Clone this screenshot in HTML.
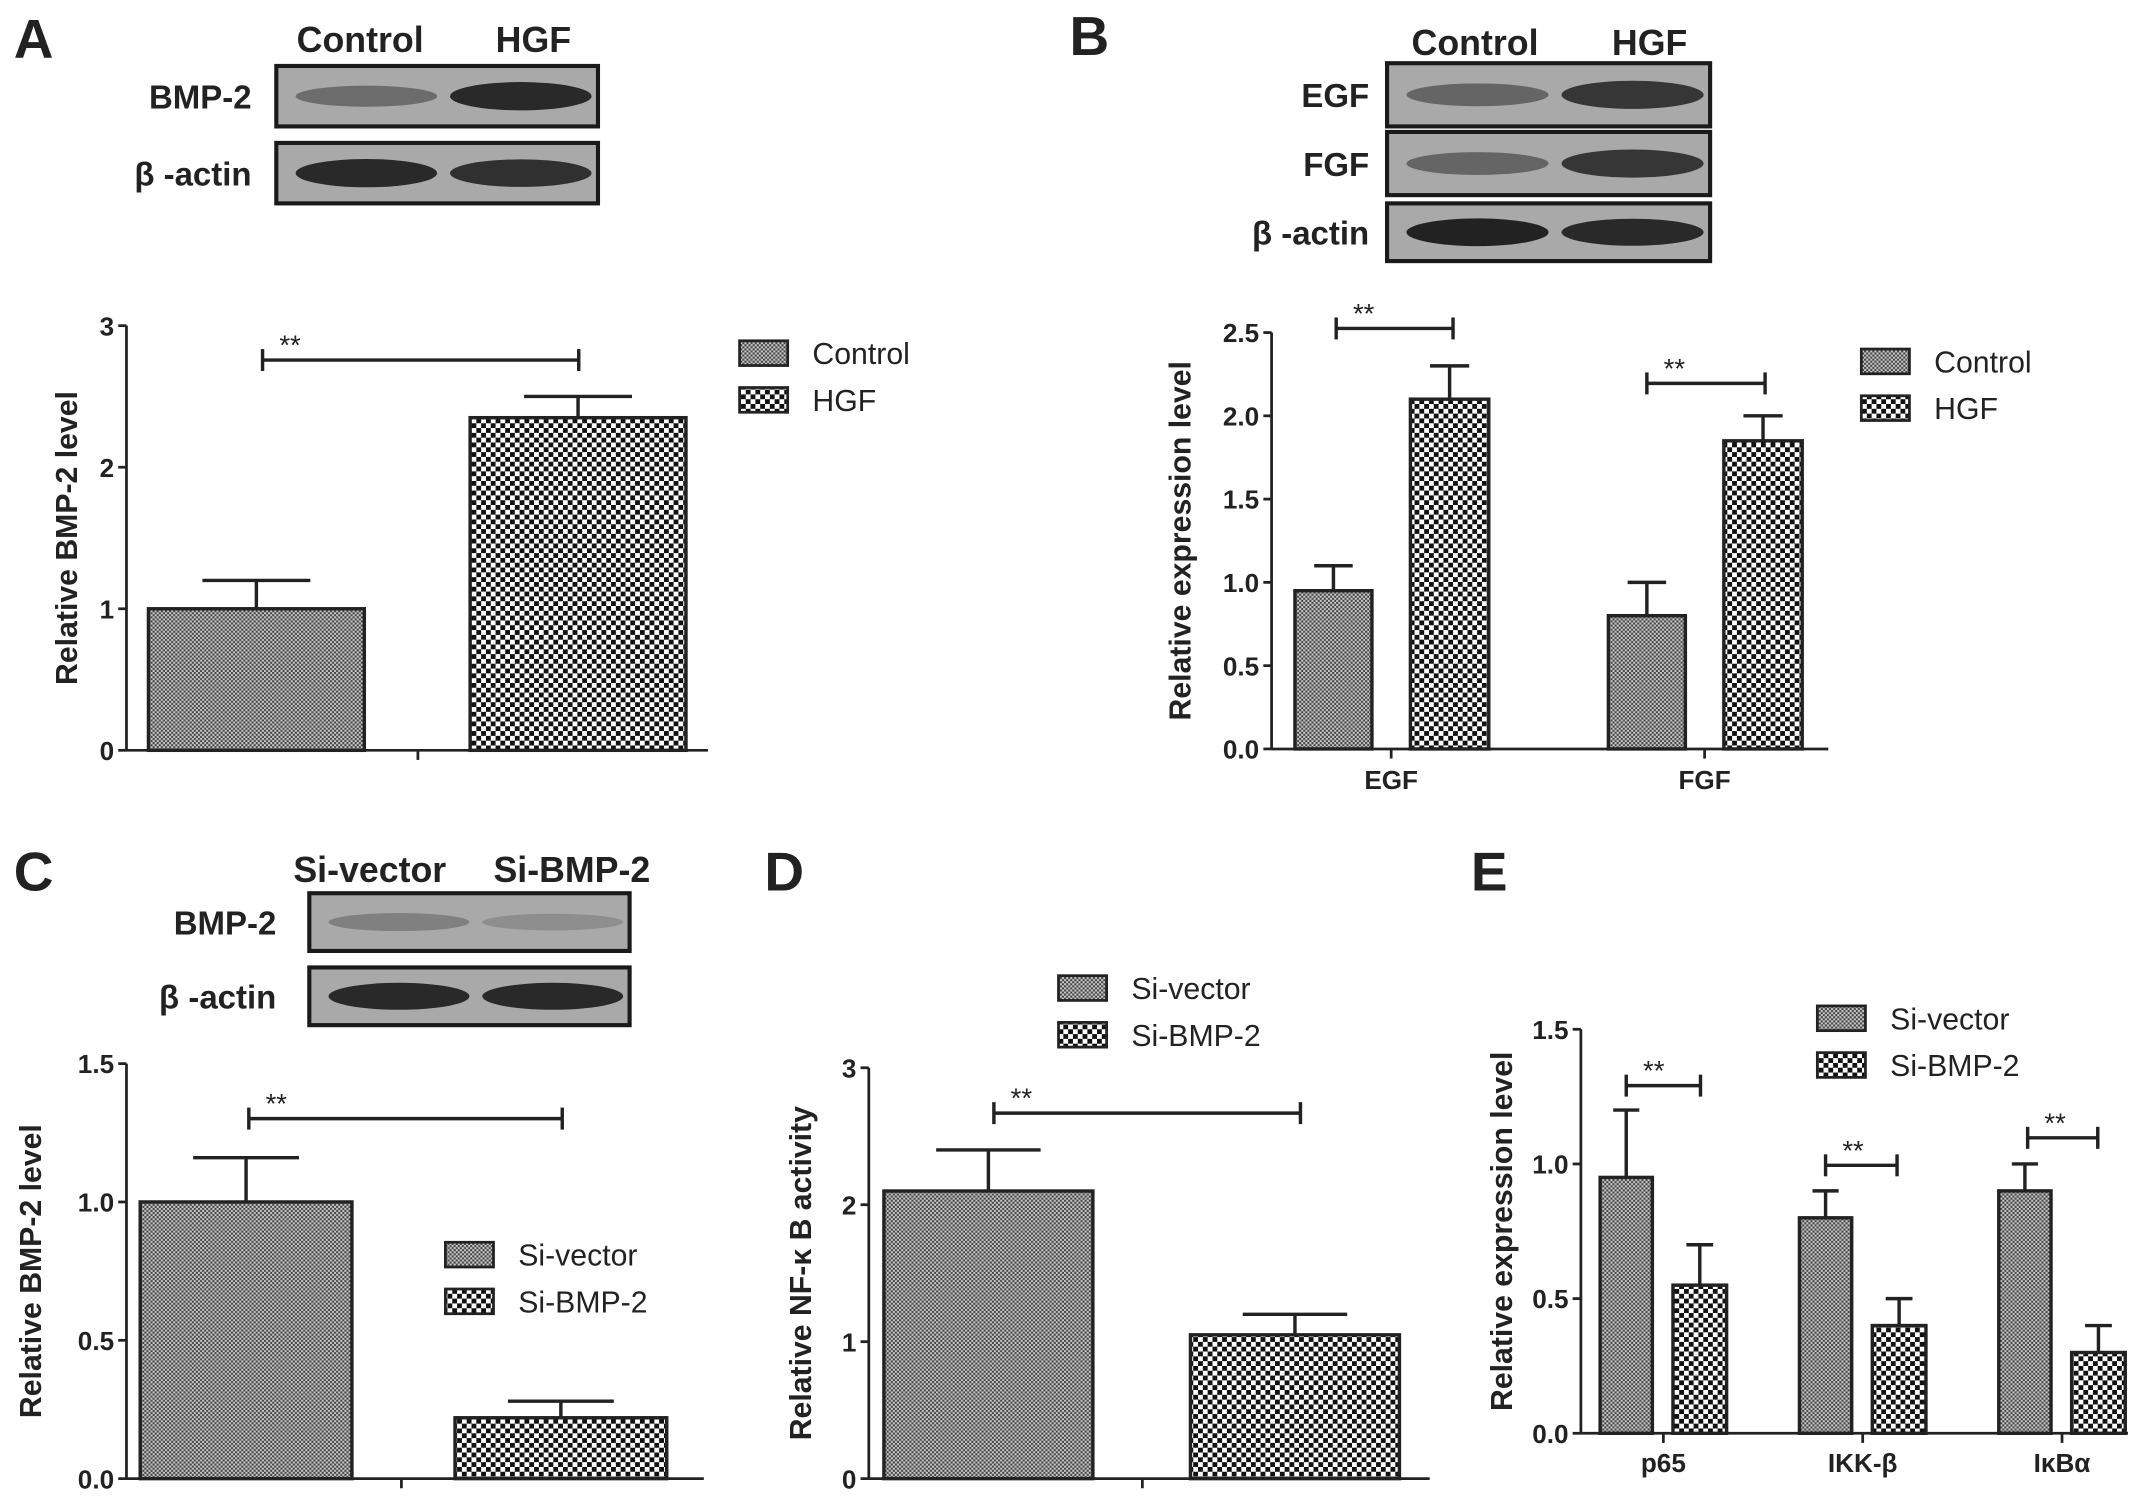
<!DOCTYPE html>
<html><head><meta charset="utf-8"><style>
html,body{margin:0;padding:0;background:#fff}
svg{display:block}
text{font-family:"Liberation Sans",Arial,sans-serif;fill:#222}
</style></head><body>
<svg id="fig" width="2150" height="1502" viewBox="0 0 1564 1093" preserveAspectRatio="none" xmlns="http://www.w3.org/2000/svg">
<defs>
<pattern id="pFine" width="3" height="3" patternUnits="userSpaceOnUse">
<rect width="3" height="3" fill="#c8c8c8"/><rect width="1.5" height="1.5" fill="#444"/><rect x="1.5" y="1.5" width="1.5" height="1.5" fill="#444"/>
</pattern>
<pattern id="pCoarse" width="7" height="7" patternUnits="userSpaceOnUse">
<rect width="7" height="7" fill="#fff"/><rect width="3.5" height="3.5" fill="#111"/><rect x="3.5" y="3.5" width="3.5" height="3.5" fill="#111"/>
</pattern>
</defs>
<g id="root"></g>
</svg>
<script>
// Panel A
const aCats = ["Control","HGF"];
const aVals = [1.0, 2.35];
const aErrs = [0.2, 0.15];
const aTicks = ["0","1","2","3"];
// Panel B
const bGroups = ["EGF","FGF"];
const bCtrl = [0.95, 0.8];
const bCtrlErr = [0.15, 0.2];
const bHgf = [2.1, 1.85];
const bHgfErr = [0.2, 0.15];
const bTicks = ["0.0","0.5","1.0","1.5","2.0","2.5"];
// Panel C
const cVals = [1.0, 0.22];
const cErrs = [0.16, 0.06];
const cTicks = ["0.0","0.5","1.0","1.5"];
// Panel D
const dVals = [2.1, 1.05];
const dErrs = [0.3, 0.15];
const dTicks = ["0","1","2","3"];
// Panel E
const eGroups = ["p65","IKK-β","IκBα"];
const eVec = [0.95, 0.8, 0.9];
const eVecErr = [0.25, 0.1, 0.1];
const eSi = [0.55, 0.4, 0.3];
const eSiErr = [0.15, 0.1, 0.1];
const eTicks = ["0.0","0.5","1.0","1.5"];

const NS="http://www.w3.org/2000/svg";
const root=document.getElementById('root');
function mk(tag,attrs,parent){const e=document.createElementNS(NS,tag);for(const k in attrs)e.setAttribute(k,attrs[k]);(parent||root).appendChild(e);return e;}
function txt(s,x,y,size,anchor,weight,parent){const t=mk('text',{x:x,y:y,'font-size':size,'text-anchor':anchor||'middle','font-weight':weight||'normal'},parent);t.textContent=s;return t;}

function letter(s,x,y){const t=txt(s,x,y,40,'start','bold');}

function blot(x,y,w,h,intens,label,lx){
  const g=mk('g',{});
  
  
  mk('rect',{x:x,y:y,width:w,height:h,fill:'#a9a9a9',stroke:'#1a1a1a','stroke-width':3},g);
  intens.forEach((v,i)=>{const cx=x+w*(i?0.76:0.28);mk('ellipse',{cx:cx,cy:y+h/2,rx:w*0.22,ry:h*0.24*(0.5+v*0.5),fill:'#222',opacity:v},g);});
  txt(label,lx,y+h/2+9,24,'end','bold',g);
}

function axis(o){
  const g=mk('g',{});
  
  
  const ys=v=>o.y0-(v/o.max)*(o.y0-o.ytop);
  mk('line',{x1:o.x0,y1:o.ytop,x2:o.x0,y2:o.y0,stroke:'#222','stroke-width':2},g);
  mk('line',{x1:o.x0,y1:o.y0,x2:o.x1,y2:o.y0,stroke:'#222','stroke-width':2},g);
  o.ticks.forEach((t,i)=>{const v=o.max*i/(o.ticks.length-1);const y=ys(v);
    mk('line',{x1:o.x0-6,y1:y,x2:o.x0,y2:y,stroke:'#222','stroke-width':2},g);
    txt(t,o.x0-9,y+7,19,'end','bold',g);});
  const yl=txt(o.ylabel,0,0,22,'middle','bold',g);
  yl.setAttribute('transform','translate('+o.ylx+','+((o.ytop+o.y0)/2)+') rotate(-90)');
  
  return ys;
}
function bar(x,w,v,err,ys,y0,pat,name){
  const g=mk('g',{});
  
  
  const y=ys(v),ye=ys(v+err),cx=x+w/2;
  mk('line',{x1:cx,y1:ye,x2:cx,y2:y,stroke:'#222','stroke-width':2.5},g);
  mk('line',{x1:cx-w*0.25,y1:ye,x2:cx+w*0.25,y2:ye,stroke:'#222','stroke-width':2.5},g);
  mk('rect',{x:x,y:y,width:w,height:y0-y,fill:'url(#'+pat+')',stroke:'#222','stroke-width':2.5},g);
}
function bracket(x1,x2,y,name){
  const g=mk('g',{});
  
  
  mk('line',{x1:x1,y1:y,x2:x2,y2:y,stroke:'#222','stroke-width':2.5},g);
  mk('line',{x1:x1,y1:y-8,x2:x1,y2:y+8,stroke:'#222','stroke-width':2.5},g);
  mk('line',{x1:x2,y1:y-8,x2:x2,y2:y+8,stroke:'#222','stroke-width':2.5},g);
  txt('**',x1+20,y-4,20,'middle','normal',g);
}
function legend(x,y,labels,name){
  const g=mk('g',{});
  
  
  labels.forEach((l,i)=>{const yy=y+i*34;
    mk('rect',{x:x,y:yy,width:35,height:18,fill:'url(#'+(i?'pCoarse':'pFine')+')',stroke:'#222','stroke-width':2},g);
    txt(l,x+53,yy+17,22,'start','normal',g);});
}

// ---- Panel A ----
letter('A',10,42);
txt('Control',262,38,26,'middle','bold');txt('HGF',388,38,26,'middle','bold');
blot(201,48,234,44,[0.45,0.95],'BMP-2',183);
blot(201,104,234,44,[0.95,0.9],'β -actin',183);
{const o={name:'chart-a',x0:92,x1:515,y0:546,ytop:237,max:3,ticks:aTicks,ylabel:'Relative BMP-2 level',ylx:56};
const ys=axis(o);const bx=[108,342];
aVals.forEach((v,i)=>bar(bx[i],157,v,aErrs[i],ys,o.y0,i?'pCoarse':'pFine','bar-'+aCats[i].toLowerCase()));
mk('line',{x1:304,y1:546,x2:304,y2:553,stroke:'#222','stroke-width':2});
bracket(191,421,262,'significance-a');legend(538,248,aCats,'legend-a');}

// ---- Panel B ----
letter('B',778,40);
txt('Control',1073,40,26,'middle','bold');txt('HGF',1200,40,26,'middle','bold');
blot(1009,46,235,46,[0.5,0.85],'EGF',996);
blot(1009,96,235,46,[0.5,0.85],'FGF',996);
blot(1009,148,235,42,[1,0.95],'β -actin',996);
{const o={name:'chart-b',x0:925,x1:1330,y0:545,ytop:242,max:2.5,ticks:bTicks,ylabel:'Relative expression level',ylx:866};
const ys=axis(o);const gc=[1012,1240];
bGroups.forEach((gname,i)=>{
  bar(gc[i]-70,56,bCtrl[i],bCtrlErr[i],ys,o.y0,'pFine','bar-'+gname.toLowerCase()+'-control');
  bar(gc[i]+14,57,bHgf[i],bHgfErr[i],ys,o.y0,'pCoarse','bar-'+gname.toLowerCase()+'-hgf');
  mk('line',{x1:gc[i],y1:545,x2:gc[i],y2:552,stroke:'#222','stroke-width':2});
  txt(gname,gc[i],574,19,'middle','bold');
});
bracket(972,1057,239,'significance-egf');bracket(1198,1284,279,'significance-fgf');
legend(1354,254,['Control','HGF'],'legend-b');}

// ---- Panel C ----
letter('C',10,648);
txt('Si-vector',269,642,26,'middle','bold');txt('Si-BMP-2',416,642,26,'middle','bold');
blot(225,650,233,42,[0.3,0.2],'BMP-2',201);
blot(225,704,233,42,[0.95,0.95],'β -actin',201);
{const o={name:'chart-c',x0:92,x1:512,y0:1076,ytop:774,max:1.5,ticks:cTicks,ylabel:'Relative BMP-2 level',ylx:30};
const ys=axis(o);const bx=[102,331];const names=['si-vector','si-bmp-2'];
cVals.forEach((v,i)=>bar(bx[i],154,v,cErrs[i],ys,o.y0,i?'pCoarse':'pFine','bar-c-'+names[i]));
mk('line',{x1:292,y1:1076,x2:292,y2:1083,stroke:'#222','stroke-width':2});
bracket(181,409,814,'significance-c');legend(324,904,['Si-vector','Si-BMP-2'],'legend-c');}

// ---- Panel D ----
letter('D',556,648);
{const o={name:'chart-d',x0:632,x1:1040,y0:1076,ytop:777,max:3,ticks:dTicks,ylabel:'Relative NF-κ B activity',ylx:590};
const ys=axis(o);const bx=[643,866];const names=['si-vector','si-bmp-2'];
dVals.forEach((v,i)=>bar(bx[i],152,v,dErrs[i],ys,o.y0,i?'pCoarse':'pFine','bar-d-'+names[i]));
mk('line',{x1:831,y1:1076,x2:831,y2:1083,stroke:'#222','stroke-width':2});
bracket(723,946,810,'significance-d');legend(770,710,['Si-vector','Si-BMP-2'],'legend-d');}

// ---- Panel E ----
letter('E',1070,648);
{const o={name:'chart-e',x0:1150,x1:1548,y0:1043,ytop:749,max:1.5,ticks:eTicks,ylabel:'Relative expression level',ylx:1100};
const ys=axis(o);const gc=[1210,1355,1500];const bk=[[1183,1237,790],[1328,1380,848],[1475,1526,828]];
eGroups.forEach((gname,i)=>{
  bar(gc[i]-46,38,eVec[i],eVecErr[i],ys,o.y0,'pFine','bar-e-'+i+'-si-vector');
  bar(gc[i]+7,39,eSi[i],eSiErr[i],ys,o.y0,'pCoarse','bar-e-'+i+'-si-bmp-2');
  mk('line',{x1:gc[i],y1:1043,x2:gc[i],y2:1050,stroke:'#222','stroke-width':2});
  txt(gname,gc[i],1071,19,'middle','bold');
  bracket(bk[i][0],bk[i][1],bk[i][2],'significance-e-'+i);
});
legend(1322,732,['Si-vector','Si-BMP-2'],'legend-e');}
</script>
</body></html>
